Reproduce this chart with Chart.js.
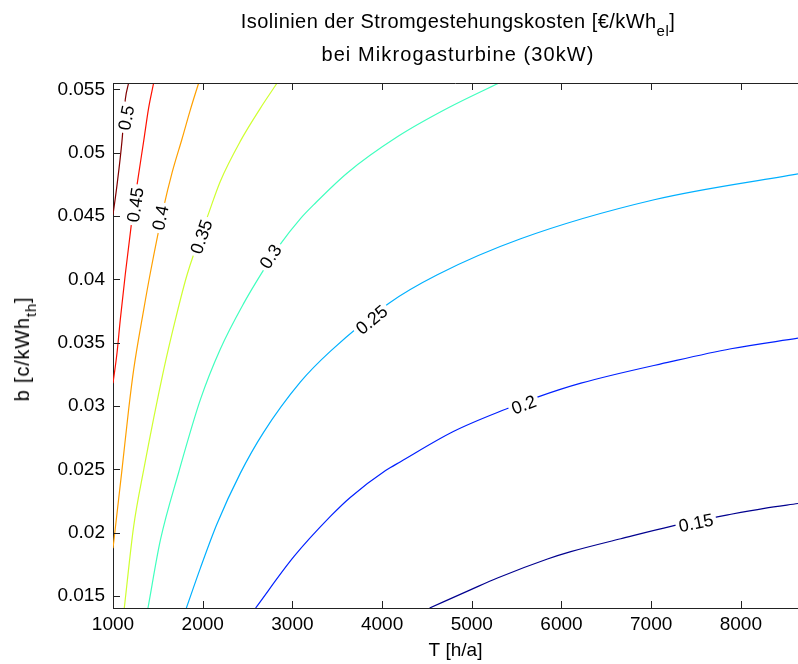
<!DOCTYPE html>
<html>
<head>
<meta charset="utf-8">
<script src="https://cdn.jsdelivr.net/npm/chart.js@4.4.0/dist/chart.umd.min.js"></script>
<style>
  html, body { margin: 0; padding: 0; background: #fff; }
  #wrap { position: relative; width: 798px; height: 664px; font-family: "Liberation Sans", Arial, sans-serif; color: #000; }
  #wrap canvas { position: absolute; left: 0; top: 0; }
  .title { position: absolute; left: 113px; width: 690px; text-align: center; font-size: 20px; white-space: nowrap; line-height: 22px; }
  .title sub { font-size: 15px; vertical-align: -8px; line-height: 0; }
  #ytitle { position: absolute; left: 22px; top: 349px; font-size: 20px; letter-spacing: 0.8px; white-space: nowrap; line-height: 22px;
            transform: translate(-50%, -50%) rotate(-90deg); }
  #ytitle sub { font-size: 15px; vertical-align: -7px; line-height: 0; }
</style>
</head>
<body>
<div id="wrap">
  <canvas id="myChart" width="798" height="664"></canvas>
  <div class="title" style="top:10px; letter-spacing:0.45px">Isolinien der Stromgestehungskosten [€/kWh<sub>el</sub>]</div>
  <div class="title" style="top:43px; letter-spacing:1.1px">bei Mikrogasturbine (30kW)</div>
  <div id="ytitle">b [c/kWh<sub>th</sub>]</div>
</div>
<script>
'use strict';

// contour levels and their colours (jet colormap)
const levels = [0.15, 0.2, 0.25, 0.3, 0.35, 0.4, 0.45, 0.5];
const levelColors = ['#00008f', '#0020ff', '#00b0ff', '#40ffbf', '#cfff30', '#ffa000', '#ff1000', '#800000'];

// points read along each isoline: T [h/a] and b [c/kWh_th]
const t015 = [4530, 4990, 5286, 5844, 6104, 6662, 7220, 7890, 8262, 8637];
const b015 = [0.01405, 0.0155, 0.01642, 0.01792, 0.01850, 0.01952, 0.02050, 0.02145, 0.02192, 0.0223];

const t020 = [2590, 3016, 3426, 3648, 4039, 4206, 4800, 5397, 5732, 6217, 7220, 7890, 8637];
const b020 = [0.01405, 0.0181, 0.0213, 0.0228, 0.0249, 0.0256, 0.0280, 0.0298, 0.03070, 0.0318, 0.0335, 0.03452, 0.03535];

const t025 = [1818, 1974, 2160, 2420, 2677, 3090, 3425, 4073, 4616, 5545, 7033, 8637];
const b025 = [0.01405, 0.0172, 0.0207, 0.0247, 0.0279, 0.0319, 0.03433, 0.0381, 0.04036, 0.0432, 0.04628, 0.04833];

const t030 = [1390, 1528, 1732, 1974, 2197, 2457, 2680, 2868, 3090, 3239, 3612, 4170, 4728, 5304];
const b030 = [0.01405, 0.0194, 0.02475, 0.0305, 0.0345, 0.0381, 0.04075, 0.0428, 0.0448, 0.0459, 0.0484, 0.05125, 0.0535, 0.0555];

const t035 = [1126, 1230, 1342, 1565, 1695, 1826, 2067, 2197, 2420, 2644, 2830];
const b035 = [0.01405, 0.02048, 0.02495, 0.03285, 0.0368, 0.04036, 0.04523, 0.04775, 0.05091, 0.05352, 0.0555];

const t040 = [1000, 1100, 1174, 1230, 1342, 1416, 1565, 1658, 1770, 1863, 1955];
const b040 = [0.01877, 0.02495, 0.0297, 0.03285, 0.03759, 0.0405, 0.0457, 0.0484, 0.0511, 0.0534, 0.0555];

const t045 = [1000, 1045, 1081, 1137, 1204, 1268, 1342, 1397, 1453];
const b045 = [0.0318, 0.0342, 0.0368, 0.0404, 0.0443, 0.04746, 0.05091, 0.05352, 0.0555];

const t050 = [1000, 1045, 1100, 1137, 1174];
const b050 = [0.0451, 0.04746, 0.05091, 0.0542, 0.0555];

const contT = [t015, t020, t025, t030, t035, t040, t045, t050];
const contB = [b015, b020, b025, b030, b035, b040, b045, b050];

// where the inline labels sit
const labelT = [7500, 5580, 3884, 2757, 1986, 1528, 1249, 1148];
const labelB = [0.02077, 0.0301, 0.0368, 0.0418, 0.04336, 0.04486, 0.04588, 0.05276];

// axis ranges and ticks
const xMin = 1000, xMax = 8637;
const yMin = 0.01405, yMax = 0.0555;
const xTicks = [1000, 2000, 3000, 4000, 5000, 6000, 7000, 8000];
const yTicks = [0.015, 0.02, 0.025, 0.03, 0.035, 0.04, 0.045, 0.05, 0.055];

const FONT = '"Liberation Sans", Arial, sans-serif';
const AXIS = '#222';

const datasets = levels.map((lv, i) => ({
  label: String(lv),
  data: contT[i].map((t, j) => ({ x: t, y: contB[i][j] })),
  showLine: true,
  borderColor: levelColors[i],
  borderWidth: 1.2,
  pointRadius: 0,
  cubicInterpolationMode: 'monotone',
  fill: false
}));

// inline labels, inward ticks and the top frame line
const decor = {
  id: 'decor',
  afterDatasetsDraw(chart) {
    const { ctx, chartArea: a, scales: { x, y } } = chart;
    ctx.save();
    ctx.font = '18px ' + FONT;
    ctx.textAlign = 'center';
    ctx.textBaseline = 'middle';
    levels.forEach((lv, i) => {
      const px = x.getPixelForValue(labelT[i]);
      const py = y.getPixelForValue(labelB[i]);
      const ts = contT[i], bs = contB[i];
      let k = ts.findIndex(t => t > labelT[i]);
      if (k < 1) k = ts.length - 1;
      const dx = x.getPixelForValue(ts[k]) - x.getPixelForValue(ts[k - 1]);
      const dy = y.getPixelForValue(bs[k]) - y.getPixelForValue(bs[k - 1]);
      const txt = String(lv);
      const w = ctx.measureText(txt).width;
      ctx.save();
      ctx.translate(px, py);
      ctx.rotate(Math.atan2(dy, dx));
      ctx.fillStyle = '#fff';
      ctx.fillRect(-w / 2 - 3, -7, w + 6, 14);
      ctx.fillStyle = '#000';
      ctx.fillText(txt, 0, 1);
      ctx.restore();
    });

    ctx.strokeStyle = AXIS;
    ctx.lineWidth = 1;
    ctx.beginPath();
    ctx.moveTo(a.left, a.top + 0.5);
    ctx.lineTo(a.right, a.top + 0.5);
    xTicks.forEach(v => {
      const px = Math.round(x.getPixelForValue(v)) + 0.5;
      ctx.moveTo(px, a.bottom);
      ctx.lineTo(px, a.bottom - 7);
      ctx.moveTo(px, a.top);
      ctx.lineTo(px, a.top + 7);
    });
    yTicks.forEach(v => {
      const py = Math.round(y.getPixelForValue(v)) + 0.5;
      ctx.moveTo(a.left, py);
      ctx.lineTo(a.left + 7, py);
    });
    ctx.stroke();
    ctx.restore();
  }
};

const ctx = document.getElementById('myChart').getContext('2d');
const myChart = new Chart(ctx, {
  type: 'scatter',
  data: { datasets: datasets },
  options: {
    responsive: false,
    animation: false,
    layout: { padding: { top: 83, left: 0, right: 0, bottom: 0 } },
    plugins: {
      legend: { display: false },
      tooltip: { enabled: false },
      title: { display: false }
    },
    scales: {
      x: {
        type: 'linear',
        min: xMin,
        max: xMax,
        afterBuildTicks: s => { s.ticks = xTicks.map(v => ({ value: v })); },
        afterFit: s => { s.height = 56; },
        grid: { drawOnChartArea: false, drawTicks: false },
        border: { display: true, color: AXIS, width: 1 },
        ticks: {
          callback: v => String(v),
          font: { family: FONT, size: 19 },
          color: '#000',
          padding: 5,
          maxRotation: 0,
          autoSkip: false
        },
        title: {
          display: true,
          text: 'T [h/a]',
          font: { family: FONT, size: 19 },
          color: '#000',
          padding: { top: 0, bottom: 2 }
        }
      },
      y: {
        type: 'linear',
        min: yMin,
        max: yMax,
        afterBuildTicks: s => { s.ticks = yTicks.map(v => ({ value: v })); },
        afterFit: s => { s.width = 113; },
        grid: { drawOnChartArea: false, drawTicks: false },
        border: { display: true, color: AXIS, width: 1 },
        ticks: {
          callback: v => String(v),
          font: { family: FONT, size: 19 },
          color: '#000',
          padding: 8,
          autoSkip: false
        }
      }
    }
  },
  plugins: [decor]
});
</script>
</body>
</html>
